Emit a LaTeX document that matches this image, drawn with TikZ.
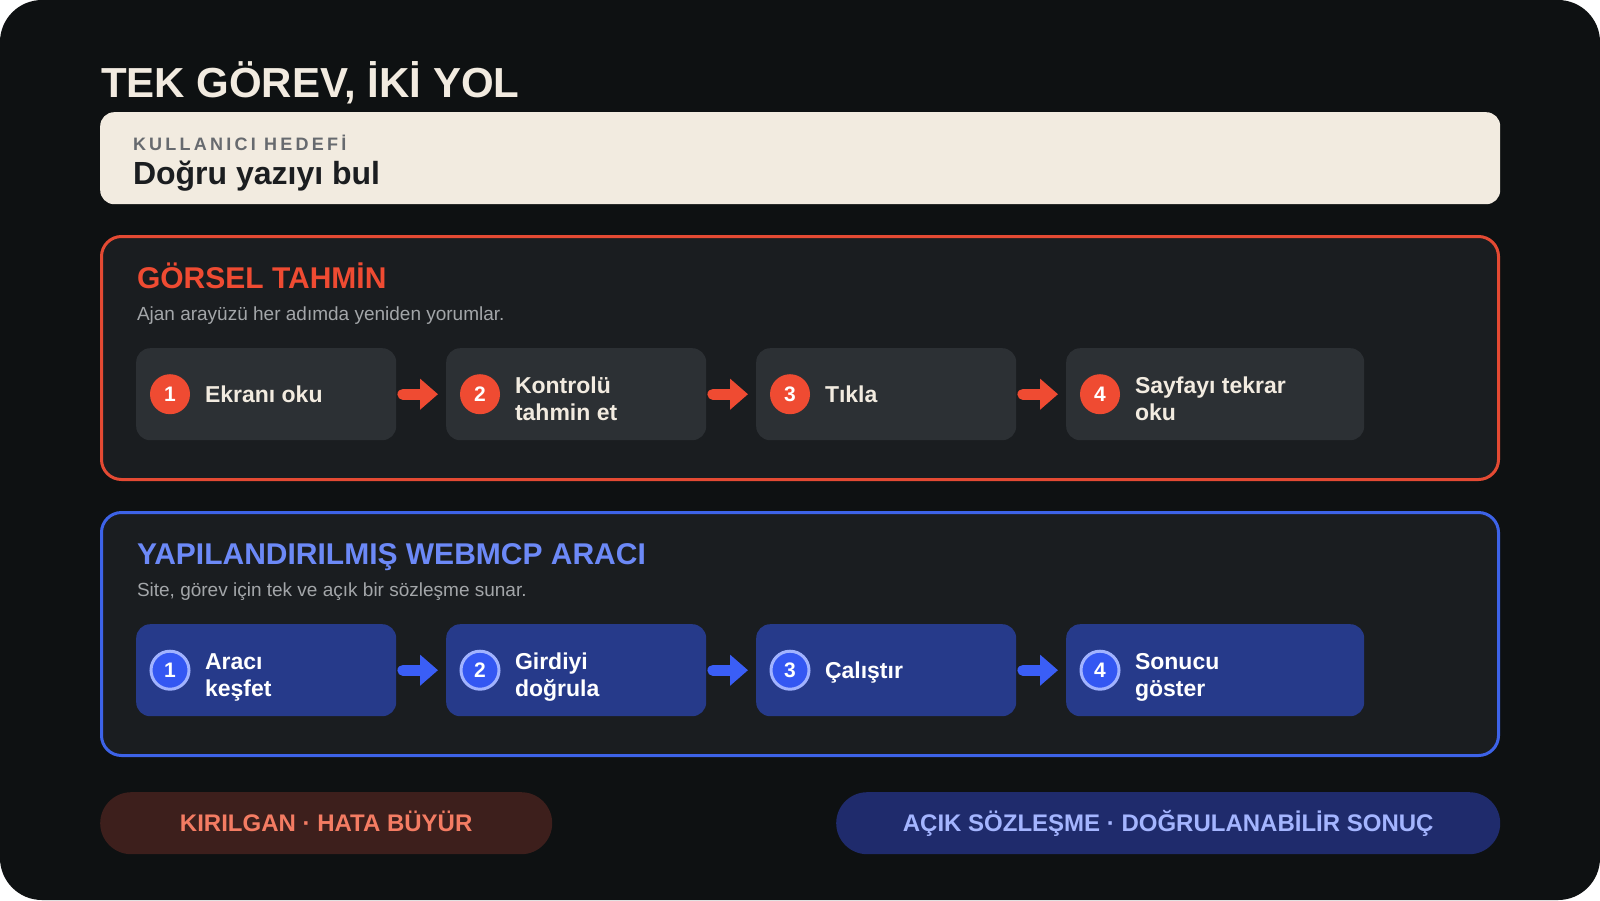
\documentclass[tikz,border=0pt]{standalone}
\usepackage{fontspec}
\setmainfont{Liberation Sans}
\usetikzlibrary{arrows.meta}
\definecolor{bgc}{HTML}{0E1112}
\definecolor{cream}{HTML}{F2EBE0}
\definecolor{panelc}{HTML}{1A1D20}
\definecolor{graystep}{HTML}{2C3034}
\definecolor{redc}{HTML}{EF4B32}
\definecolor{redborder}{HTML}{E44A33}
\definecolor{subc}{HTML}{A3A6A9}
\definecolor{goalgray}{HTML}{676A6F}
\definecolor{goaltext}{HTML}{1B1D20}
\definecolor{blueborder}{HTML}{3D63E8}
\definecolor{bluetitle}{HTML}{6C89F7}
\definecolor{bluebox}{HTML}{263A8A}
\definecolor{bluecirc}{HTML}{3457F2}
\definecolor{bluering}{HTML}{A2B3FF}
\definecolor{bluearrow}{HTML}{3A5EF6}
\definecolor{redpill}{HTML}{3D1F1C}
\definecolor{redpilltext}{HTML}{F47C63}
\definecolor{bluepill}{HTML}{1F2B6C}
\definecolor{bluepilltext}{HTML}{A4B5FF}
\begin{document}
\begin{tikzpicture}[x=1pt,y=-1pt,
  txt/.style={inner sep=0pt, outer sep=0pt, anchor=base west},
  paneltitle/.style={txt, font=\bfseries\fontsize{30}{36}\selectfont},
  panelsub/.style={txt, text=subc, font=\fontsize{19}{23}\selectfont},
  panelbox/.style={rounded corners=20pt, line width=3pt, fill=panelc, minimum width=1397pt, minimum height=243pt, inner sep=0pt, outer sep=0pt, anchor=north west},
  stepbox/.style={rounded corners=14pt, minimum height=92pt, inner sep=0pt, anchor=north west},
  steplabel/.style={txt, font=\bfseries\fontsize{23}{27}\selectfont},
  stepnum/.style={circle, inner sep=0pt, minimum size=40pt, text height=15pt, text depth=0pt, font=\bfseries\fontsize{21}{25}\selectfont},
  redarrow/.style={draw=redc, line width=11pt, line cap=round, -{Triangle[length=18pt,width=30pt]}},
  bluearr/.style={draw=bluearrow, line width=11pt, line cap=round, -{Triangle[length=18pt,width=30pt]}},
  pill/.style={rounded corners=31pt, minimum height=62pt, inner sep=0pt, anchor=north west, text height=17pt, text depth=0pt, font=\bfseries\fontsize{24}{28}\selectfont}
]
\useasboundingbox (0,0) rectangle (1600,900);
\fill[white] (0,0) rectangle (1600,900);
\fill[bgc, rounded corners=42pt] (0,0) rectangle (1600,900);

% title
\node[txt, text=cream, font=\bfseries\fontsize{42}{50}\selectfont] (title) at (101,97) {TEK GÖREV, İKİ YOL};

% goal
\node[fill=cream, rounded corners=14pt, minimum width=1400pt, minimum height=92pt, inner sep=0pt, anchor=north west] (goal) at (100,112) {};
\node[txt, text=goalgray, font=\bfseries\fontsize{18}{22}\selectfont\addfontfeatures{LetterSpace=18}] (goalkicker) at (133,150) {KULLANICI HEDEFİ};
\node[txt, text=goaltext, font=\bfseries\fontsize{32}{38}\selectfont] (goaltxt) at (133,184) {Doğru yazıyı bul};

% red panel
\node[panelbox, draw=redborder] (rpanel) at (101.5,236.5) {};
\node[paneltitle, text=redc] (rtitle) at (137,288.3) {GÖRSEL TAHMİN};
\node[panelsub] (rsub) at (137,320) {Ajan arayüzü her adımda yeniden yorumlar.};

\node[stepbox, fill=graystep, minimum width=260pt] (r1) at (136,348) {};
\node[stepbox, fill=graystep, minimum width=260pt] (r2) at (446,348) {};
\node[stepbox, fill=graystep, minimum width=260pt] (r3) at (756,348) {};
\node[stepbox, fill=graystep, minimum width=298pt] (r4) at (1066,348) {};

\foreach \i in {1,2,3,4}{
  \node[stepnum, fill=redc, text=white] (rc\i) at ([xshift=34pt]r\i.west) {\i};
}
\node[steplabel, text=cream] (rl1) at (205,402) {Ekranı oku};
\node[steplabel, text=cream] (rl2a) at (515,393) {Kontrolü};
\node[steplabel, text=cream] (rl2b) at (515,420) {tahmin et};
\node[steplabel, text=cream] (rl3) at (825,402) {Tıkla};
\node[steplabel, text=cream] (rl4a) at (1135,393) {Sayfayı tekrar};
\node[steplabel, text=cream] (rl4b) at (1135,420) {oku};

\draw[redarrow] ([xshift=6.5pt]r1.east) -- ([xshift=-8pt]r2.west);
\draw[redarrow] ([xshift=6.5pt]r2.east) -- ([xshift=-8pt]r3.west);
\draw[redarrow] ([xshift=6.5pt]r3.east) -- ([xshift=-8pt]r4.west);

% blue panel
\node[panelbox, draw=blueborder] (bpanel) at (101.5,512.5) {};
\node[paneltitle, text=bluetitle] (btitle) at (137,564.3) {YAPILANDIRILMIŞ WEBMCP ARACI};
\node[panelsub] (bsub) at (137,596) {Site, görev için tek ve açık bir sözleşme sunar.};

\node[stepbox, fill=bluebox, minimum width=260pt] (b1) at (136,624) {};
\node[stepbox, fill=bluebox, minimum width=260pt] (b2) at (446,624) {};
\node[stepbox, fill=bluebox, minimum width=260pt] (b3) at (756,624) {};
\node[stepbox, fill=bluebox, minimum width=298pt] (b4) at (1066,624) {};

\foreach \i in {1,2,3,4}{
  \node[stepnum, minimum size=38pt, fill=bluecirc, draw=bluering, line width=3pt, text=white] (bc\i) at ([xshift=34pt]b\i.west) {\i};
}
\node[steplabel, text=white] (bl1a) at (205,669) {Aracı};
\node[steplabel, text=white] (bl1b) at (205,696) {keşfet};
\node[steplabel, text=white] (bl2a) at (515,669) {Girdiyi};
\node[steplabel, text=white] (bl2b) at (515,696) {doğrula};
\node[steplabel, text=white] (bl3) at (825,678) {Çalıştır};
\node[steplabel, text=white] (bl4a) at (1135,669) {Sonucu};
\node[steplabel, text=white] (bl4b) at (1135,696) {göster};

\draw[bluearr] ([xshift=6.5pt]b1.east) -- ([xshift=-8pt]b2.west);
\draw[bluearr] ([xshift=6.5pt]b2.east) -- ([xshift=-8pt]b3.west);
\draw[bluearr] ([xshift=6.5pt]b3.east) -- ([xshift=-8pt]b4.west);

% pills
\node[pill, fill=redpill, text=redpilltext, minimum width=452pt] (rpill) at (100,792) {KIRILGAN · HATA BÜYÜR};
\node[pill, fill=bluepill, text=bluepilltext, minimum width=664pt] (bpill) at (836,792) {AÇIK SÖZLEŞME · DOĞRULANABİLİR SONUÇ};
\end{tikzpicture}
\end{document}
